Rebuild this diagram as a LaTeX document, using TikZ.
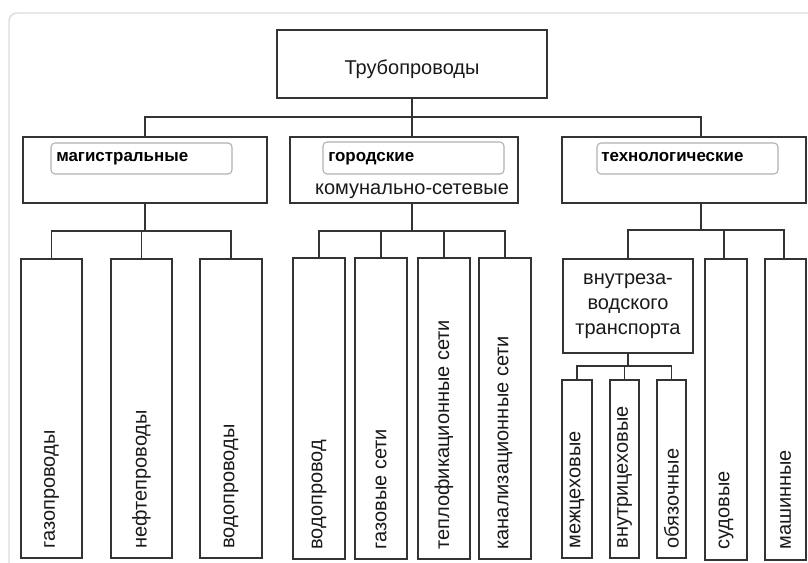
\documentclass[tikz,border=0pt]{standalone}
\usepackage{fontspec}
\setmainfont{Liberation Sans}
\newfontfamily\lblfont{Liberation Sans Bold}
\usetikzlibrary{fit}
\definecolor{linec}{HTML}{333333}
\definecolor{framec}{HTML}{DCDCDC}
\definecolor{tagc}{HTML}{B0B0B0}
\begin{document}
\begin{tikzpicture}[x=0.75pt,y=-0.75pt,
  box/.style={draw=linec, line width=1pt, inner sep=0pt, fit={#1}},
  tagbox/.style={draw=tagc, line width=0.8pt, rounded corners=3pt, inner sep=0pt, fit={#1}},
  txt/.style={font=\fontsize{15}{18.75}\selectfont, inner sep=0pt, text=black!90},
  vtxt/.style={txt, rotate=90, anchor=west},
  boldlbl/.style={font=\lblfont\fontsize{12.7}{15}\selectfont, inner sep=0pt, anchor=base west},
  conn/.style={draw=linec, line width=1pt}]
\useasboundingbox (0,0) rectangle (808,563);
% frame
\draw[framec, line width=1.1pt, rounded corners=6pt] (809,13) -- (9,13) -- (9,564);

% root
\node[box={(277,30)(547,98)}] (root) {};
\node[txt, anchor=base] (rootT) at (412,75) {Трубопроводы};

% level 2
\node[box={(23,137)(267,203)}] (mag) {};
\node[box={(290,137)(518,203)}] (gor) {};
\node[box={(562,137)(806,203)}] (tech) {};
\node[tagbox={(51,143)(232,174)}] (magTag) {};
\node[tagbox={(323,142)(504,174)}] (gorTag) {};
\node[tagbox={(597,143)(778,174)}] (techTag) {};
\node[boldlbl] (magL) at (56,162) {магистральные};
\node[boldlbl] (gorL) at (328,162) {городские};
\node[boldlbl] (techL) at (601,162) {технологические};
\node[txt, anchor=base] (gorSub) at (412,195) {комунально-сетевые};

% level 3: magistral
\node[box={(21,259)(82,558)}] (gaz) {};
\node[box={(111,259)(172,558)}] (neft) {};
\node[box={(200,259)(262,558)}] (vodo) {};
% level 3: gorodskie
\node[box={(293,258)(345,559)}] (vodopr) {};
\node[box={(355,258)(407,559)}] (gazseti) {};
\node[box={(418,258)(470,559)}] (teplo) {};
\node[box={(479,258)(531,559)}] (kanal) {};
% level 3: tech
\node[box={(563,259)(693,353)}] (vnutri) {};
\node[box={(705,259)(747,560)}] (sud) {};
\node[box={(765,259)(806,560)}] (mash) {};
% level 4
\node[box={(562,380)(592,558)}] (mezh) {};
\node[box={(610,380)(639,558)}] (vnutrc) {};
\node[box={(657,380)(686,558)}] (obyaz) {};

% texts
\node[vtxt] (gazT) at ([yshift=7.5pt]gaz.south) {газопроводы};
\node[vtxt] (neftT) at ([yshift=7.5pt]neft.south) {нефтепроводы};
\node[vtxt] (vodoT) at ([yshift=7.5pt]vodo.south) {водопроводы};
\node[vtxt] (vodoprT) at ([yshift=7.5pt]vodopr.south) {водопровод};
\node[vtxt] (gazsetiT) at ([yshift=7.5pt]gazseti.south) {газовые сети};
\node[vtxt] (teploT) at ([yshift=7.5pt]teplo.south) {теплофикационные сети};
\node[vtxt] (kanalT) at ([yshift=7.5pt]kanal.south) {канализационные сети};
\node[vtxt] (sudT) at ([yshift=8pt]sud.south) {судовые};
\node[vtxt] (mashT) at ([yshift=8pt]mash.south) {машинные};
\node[vtxt] (mezhT) at ([yshift=7.5pt]mezh.south) {межцеховые};
\node[vtxt] (vnutrcT) at ([yshift=7.5pt]vnutrc.south) {внутрицеховые};
\node[vtxt] (obyazT) at ([yshift=7.5pt]obyaz.south) {обязочные};
\node[txt, align=center] (vnutriT) at (vnutri.center) {внутреза-\\водского\\транспорта};

% junction coordinates
\coordinate (busA) at (412,117);
\coordinate (busB) at (412,231);
\coordinate (busC) at (701,230);
\coordinate (busD) at (628,366);
\coordinate (techOut) at (701,203);
\coordinate (sudIn) at (724,259);
\coordinate (mashIn) at (784,259);

% connectors level 1 -> 2
\draw[conn] (root.south) -- (busA);
\draw[conn] (mag.north) |- (busA) -| (techOut |- tech.north);
\draw[conn] (busA) -- (busA |- gor.north);
% mag -> children
\draw[conn] (mag.south) -- (mag.south |- busB);
\draw[conn] (gaz.north) |- (mag.south |- busB) -| (vodo.north);
\draw[conn] (neft.north) -- (neft.north |- busB);
% gor -> children
\draw[conn] (busB |- gor.south) -- (busB);
\draw[conn] (vodopr.north) |- (busB) -| (kanal.north);
\draw[conn] (gazseti.north) -- (gazseti.north |- busB);
\draw[conn] (teplo.north) -- (teplo.north |- busB);
% tech -> children
\draw[conn] (techOut) -- (busC);
\draw[conn] (vnutri.north) |- (busC) -| (mashIn);
\draw[conn] (sudIn) -- (sudIn |- busC);
% vnutri -> children
\draw[conn] (vnutri.south) -- (busD);
\draw[conn] (mezh.north) |- (busD) -| (obyaz.north);
\draw[conn] (vnutrc.north) -- (vnutrc.north |- busD);
\end{tikzpicture}
\end{document}
